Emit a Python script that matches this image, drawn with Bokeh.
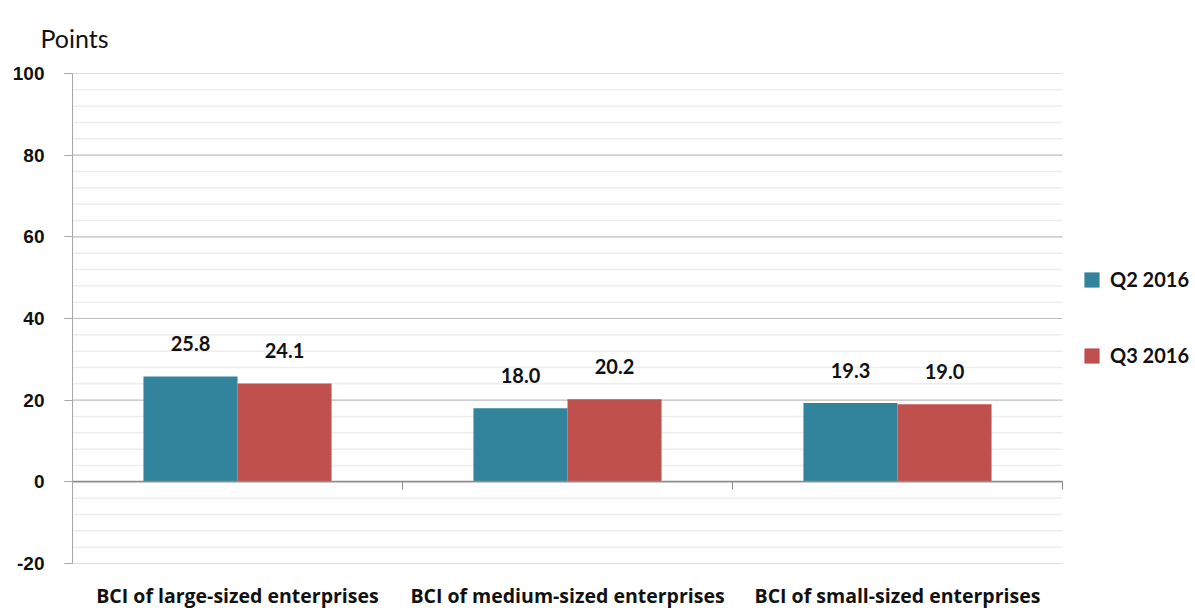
from bokeh.plotting import figure
from bokeh.models import (Range1d, SingleIntervalTicker, FixedTicker, LinearAxis,
                          ColumnDataSource, Legend, LegendItem, Title)
from bokeh.core.properties import value
from bokeh.embed import file_html
from bokeh.resources import INLINE

categories = ["BCI of large-sized enterprises",
              "BCI of medium-sized enterprises",
              "BCI of small-sized enterprises"]
q2_2016 = [25.8, 18.0, 19.3]
q3_2016 = [24.1, 20.2, 19.0]
series_names = ["Q2 2016", "Q3 2016"]
y_ticks = [-20, 0, 20, 40, 60, 80, 100]
minor_step = 4

TEAL = "#31849B"
RED = "#C0504D"
BAR_W = 0.285

n_cat = len(categories)
# extra room to the right of the category area holds the legend
x_end = n_cat * 1123 / 990

centers = [i + 0.5 for i in range(n_cat)]
src = ColumnDataSource(dict(
    x2=[c - BAR_W / 2 for c in centers],
    x3=[c + BAR_W / 2 for c in centers],
    q2=q2_2016, q3=q3_2016,
    l2=[f"{v:.1f}" for v in q2_2016],
    l3=[f"{v:.1f}" for v in q3_2016],
))

p = figure(width=1195, height=611, output_backend="svg", toolbar_location=None,
           x_range=Range1d(0, x_end), y_range=Range1d(y_ticks[0], y_ticks[-1]),
           min_border_left=72, min_border_right=0, min_border_top=73,
           min_border_bottom=48, x_axis_type=None, y_axis_type=None)
p.outline_line_color = None
p.background_fill_color = "white"
p.border_fill_color = "white"

# Horizontal grid limited to the category area
minor_y = [v for v in range(y_ticks[0], y_ticks[-1] + 1, minor_step) if v not in y_ticks]
p.segment(x0=[0] * len(minor_y), x1=[n_cat] * len(minor_y), y0=minor_y, y1=minor_y,
          line_color="#ededed", line_width=1.5)
p.segment(x0=[0] * len(y_ticks), x1=[n_cat] * len(y_ticks), y0=y_ticks, y1=y_ticks,
          line_color="#bdbdbd", line_width=1.2)

# Left value axis
yticker = SingleIntervalTicker(interval=20, num_minor_ticks=5)
yax = LinearAxis(ticker=yticker,
                 major_label_overrides={t: str(t) for t in y_ticks})
yax.axis_line_color = "#a6a6a6"
yax.major_tick_line_color = "#a6a6a6"
yax.major_tick_out = 8
yax.major_tick_in = 0
yax.minor_tick_line_color = None
yax.major_label_text_font = "Liberation Sans"
yax.major_label_text_font_style = "bold"
yax.major_label_text_font_size = "19px"
yax.major_label_text_color = "#111111"
yax.major_label_standoff = 20
p.add_layout(yax, "left")

# Category axis sitting on the zero line, ticks hanging down between groups
zax = LinearAxis(ticker=FixedTicker(ticks=list(range(n_cat + 1))), fixed_location=0,
                 bounds=(0, n_cat),
                 major_label_overrides={i: "" for i in range(n_cat + 1)})
zax.axis_line_color = "#8c8c8c"
zax.axis_line_width = 1.5
zax.major_tick_line_color = "#8c8c8c"
zax.major_tick_out = 0
zax.major_tick_in = 8
zax.minor_tick_line_color = None
p.add_layout(zax, "above")

# Category labels along the bottom
cax = LinearAxis(ticker=FixedTicker(ticks=centers),
                 major_label_overrides={c: n for c, n in zip(centers, categories)})
cax.axis_line_color = None
cax.major_tick_line_color = None
cax.minor_tick_line_color = None
cax.major_label_text_font = "Open Sans"
cax.major_label_text_font_style = "bold"
cax.major_label_text_font_size = "19.5px"
cax.major_label_text_color = "#111111"
cax.major_label_standoff = 12
p.add_layout(cax, "below")

r2 = p.vbar(x="x2", top="q2", bottom=0, width=BAR_W, source=src,
            fill_color=TEAL, line_color=None)
r3 = p.vbar(x="x3", top="q3", bottom=0, width=BAR_W, source=src,
            fill_color=RED, line_color=None)

for xcol, ycol, lcol in (("x2", "q2", "l2"), ("x3", "q3", "l3")):
    p.text(x=xcol, y=ycol, text=lcol, source=src, y_offset=-33,
           text_align="center", text_baseline="middle",
           text_font=value("Lato"), text_font_style="bold",
           text_font_size="20px", text_color="#111111")

legend = Legend(items=[LegendItem(label=series_names[0], renderers=[r2]),
                       LegendItem(label=series_names[1], renderers=[r3])],
                location=(1010, 196), orientation="vertical",
                glyph_width=19, glyph_height=19, label_height=19,
                label_standoff=9, spacing=52, padding=0, margin=0,
                border_line_color=None, background_fill_alpha=0,
                label_text_font="Lato", label_text_font_style="bold",
                label_text_font_size="20px", label_text_color="#111111")
p.add_layout(legend)

p.title = Title(text="Points", text_font="Lato", text_font_style="normal",
                text_font_size="25px", text_color="#111111", align="left",
                offset=-32, standoff=41)

open("out.html", "w").write(file_html(p, INLINE))
